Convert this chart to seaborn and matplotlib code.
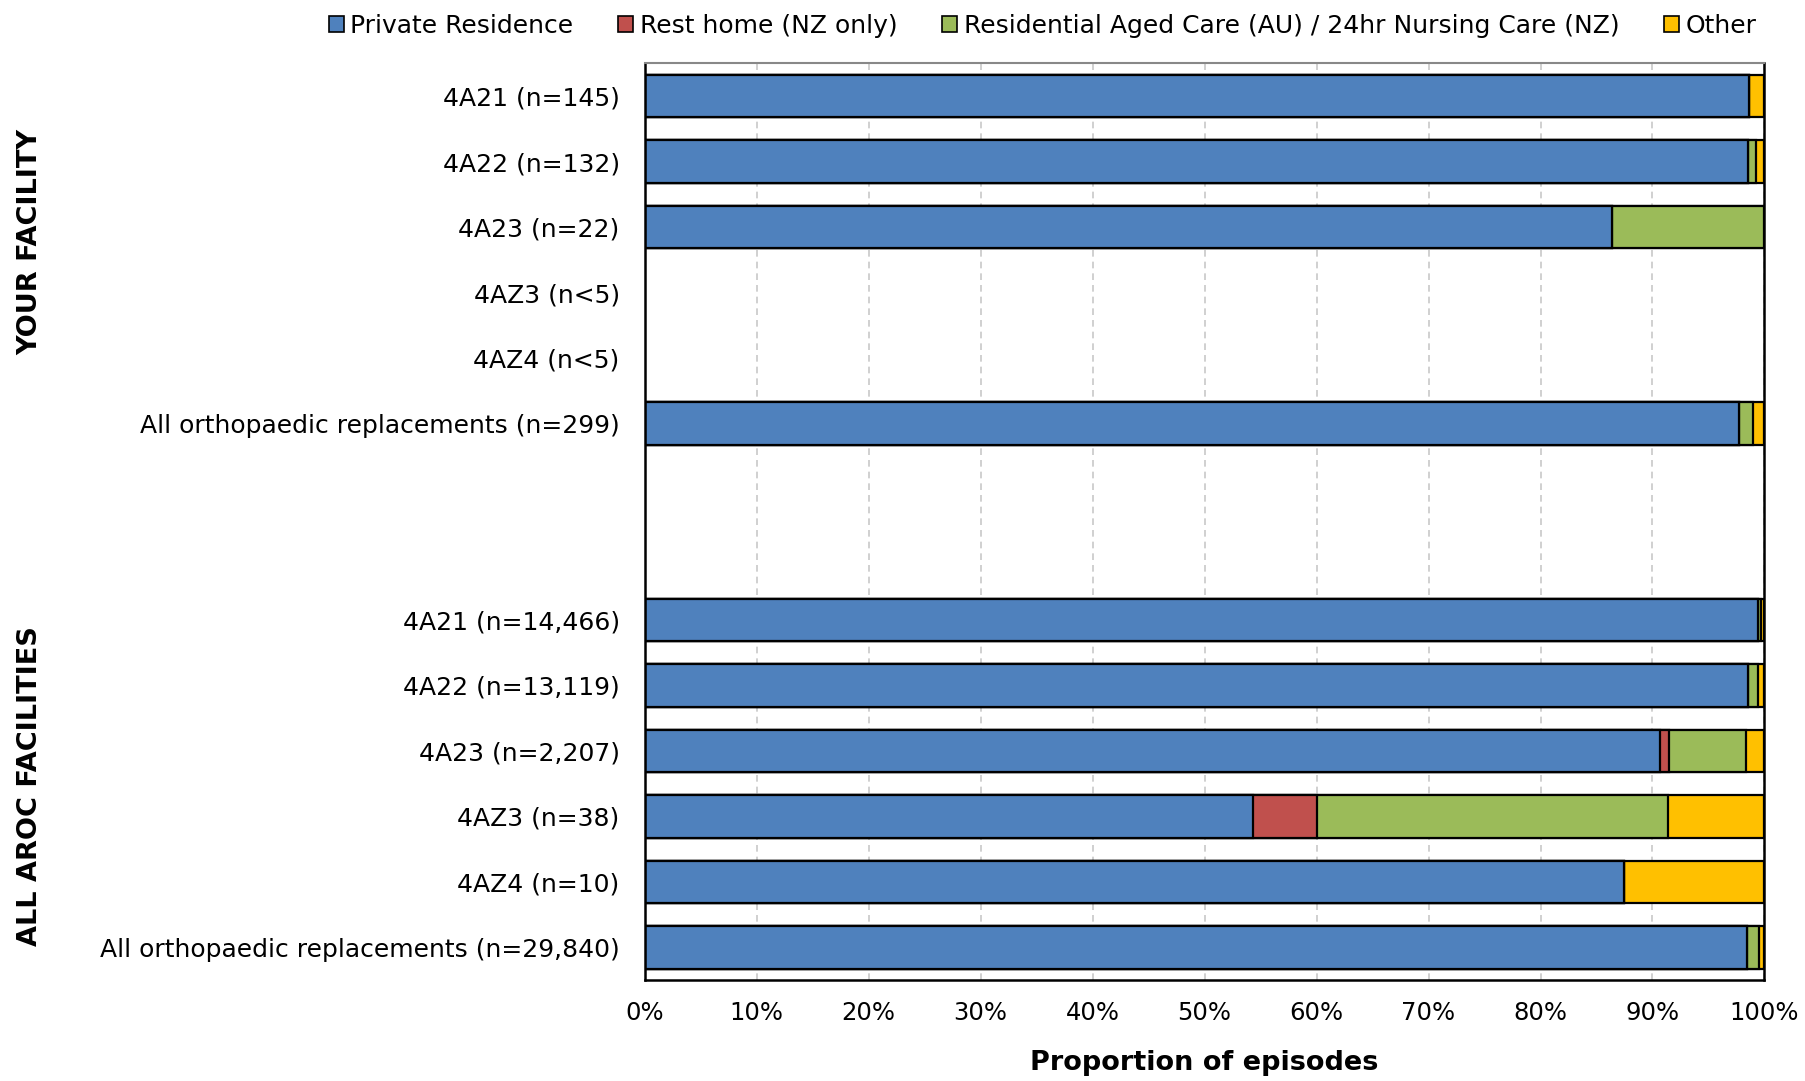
import numpy as np
import pandas as pd
import matplotlib
matplotlib.use("Agg")
import matplotlib.pyplot as plt
from matplotlib.patches import Patch
from matplotlib.ticker import FuncFormatter
import seaborn as sns

# Row labels (two blank rows separate the two groups)
row_labels = ["4A21 (n=145)", "4A22 (n=132)", "4A23 (n=22)", "4AZ3 (n<5)", "4AZ4 (n<5)",
              "All orthopaedic replacements (n=299)", "", " ",
              "4A21 (n=14,466)", "4A22 (n=13,119)", "4A23 (n=2,207)", "4AZ3 (n=38)",
              "4AZ4 (n=10)", "All orthopaedic replacements (n=29,840)"]

nan = np.nan
private_residence = [98.6, 98.5, 86.4, nan, nan, 97.7, nan, nan, 99.4, 98.5, 90.7, 54.3, 87.5, 98.4]
rest_home = [0.0, 0.0, 0.0, nan, nan, 0.0, nan, nan, 0.05, 0.05, 0.75, 5.7, 0.0, 0.05]
residential_care = [0.0, 0.76, 13.6, nan, nan, 1.3, nan, nan, 0.25, 0.9, 6.9, 31.4, 0.0, 1.05]
other = [1.4, 0.74, 0.0, nan, nan, 1.0, nan, nan, 0.3, 0.55, 1.65, 8.6, 12.5, 0.5]

series_names = ["Private Residence", "Rest home (NZ only)",
                "Residential Aged Care (AU) / 24hr Nursing Care (NZ)", "Other"]
colors = ["#4F81BD", "#C0504D", "#9BBB59", "#FFC000"]

df = pd.DataFrame({"label": row_labels,
                   "s0": private_residence, "s1": rest_home,
                   "s2": residential_care, "s3": other})
# cumulative ends for stacking
df["c0"] = df["s0"]
df["c1"] = df["c0"] + df["s1"]
df["c2"] = df["c1"] + df["s2"]
df["c3"] = df["c2"] + df["s3"]

sns.set_style("white")
plt.rcParams["font.family"] = ["DejaVu Sans"]
plt.rcParams["text.color"] = "black"
plt.rcParams["axes.labelcolor"] = "black"

fig = plt.figure(figsize=(18.06, 10.81), dpi=100)
ax = fig.add_axes([0.357, 0.0934, 0.620, 0.848])

# draw from the outermost segment inwards so each one sits on top
for i in [3, 2, 1, 0]:
    sns.barplot(data=df, x=f"c{i}", y="label", order=row_labels, orient="h",
                color=colors[i], saturation=1, edgecolor="black", linewidth=1.6,
                width=0.65, errorbar=None, ax=ax)

ax.set_xlim(0, 100)
ax.set_ylim(len(row_labels) - 0.5, -0.5)
ax.set_xticks(np.arange(0, 101, 10))
ax.xaxis.set_major_formatter(FuncFormatter(lambda v, p: f"{v:.0f}%"))
ax.xaxis.grid(True, linestyle=(0, (4, 3)), color="#c8c8c8", linewidth=1.2)
ax.set_axisbelow(True)
ax.tick_params(axis="both", length=0, labelcolor="black")
ax.tick_params(axis="y", pad=18, labelsize=18)
ax.tick_params(axis="x", pad=15, labelsize=17.5)
ax.set_ylabel("")
ax.set_xlabel("Proportion of episodes", fontsize=19.5, fontweight="bold", labelpad=18)

for side in ["left", "bottom", "right"]:
    ax.spines[side].set_color("black")
    ax.spines[side].set_linewidth(1.8)
ax.spines["top"].set_color("#888888")
ax.spines["top"].set_linewidth(1.5)

# group labels
fig.text(0.0165, 1 - 242 / 1081, "YOUR FACILITY", rotation=90, ha="center", va="center",
         fontsize=19.5, fontweight="bold")
fig.text(0.0165, 1 - 786 / 1081, "ALL AROC FACILITIES", rotation=90, ha="center", va="center",
         fontsize=19.5, fontweight="bold")

handles = [Patch(facecolor=c, edgecolor="black", linewidth=1.2) for c in colors]
fig.legend(handles, series_names, loc="upper right", bbox_to_anchor=(0.985, 1.008),
           ncol=4, frameon=False, fontsize=18, handlelength=0.6, handleheight=0.6,
           handletextpad=0.25, columnspacing=1.8)

fig.savefig("out.png", dpi=100)
